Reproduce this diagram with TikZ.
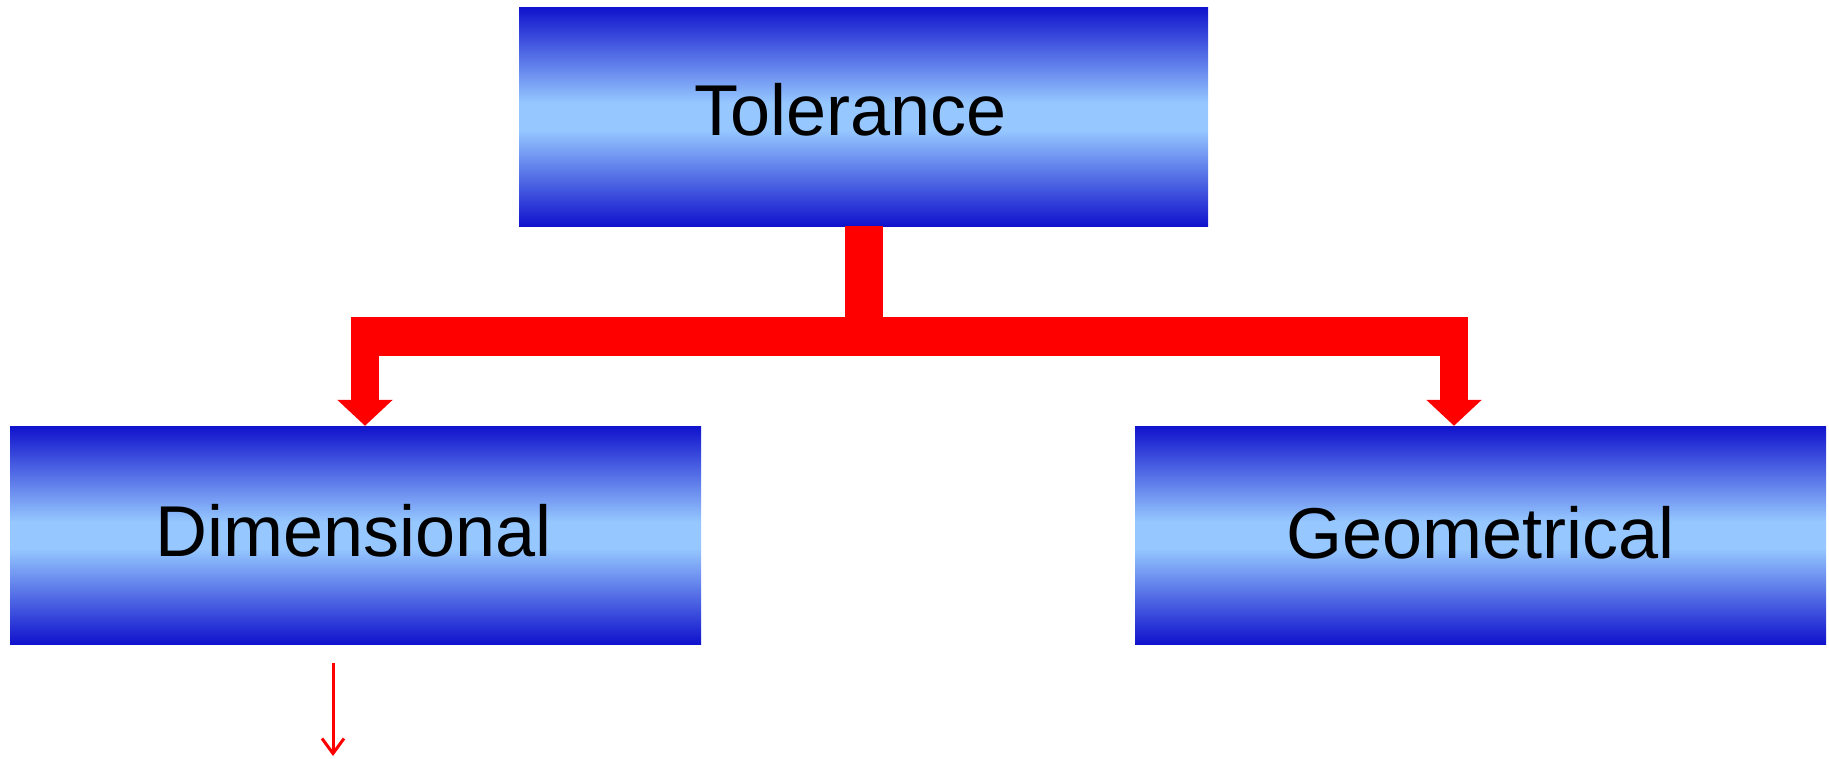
\documentclass[tikz,border=0pt]{standalone}
\usepackage{fontspec}
\setmainfont{Liberation Sans}
\usetikzlibrary{arrows.meta}
\definecolor{boxdark}{RGB}{16,18,204}
\definecolor{boxlight}{RGB}{150,200,255}
\definecolor{linkred}{RGB}{255,0,0}
% blue band shading: dark edges, light centre
\pgfdeclareverticalshading{boxband}{100bp}{%
  color(0bp)=(boxdark); color(25bp)=(boxdark);
  color(47bp)=(boxlight); color(53bp)=(boxlight);
  color(75bp)=(boxdark); color(100bp)=(boxdark)}
\tikzset{
  gradbox/.style={rectangle, inner sep=0pt, minimum width=#1, minimum height=218pt,
    shading=boxband},
  boxlabel/.style={font=\fontsize{72}{86}\selectfont, text=black, inner sep=0pt},
  thickbar/.style={draw=linkred, line cap=butt},
  bigarrow/.style={draw=linkred, line width=28pt, line cap=butt,
    -{Triangle[length=26pt, width=54pt]}},
  thinarrow/.style={draw=linkred, line width=3pt,
    -{Straight Barb[length=15pt, width=22pt, line width=3pt]}}
}
\begin{document}
\begin{tikzpicture}[x=1pt, y=-1pt]
  \useasboundingbox (0,0) rectangle (1829,758);

  % the three boxes
  \node[gradbox=689pt, minimum height=219pt] (tol) at (863.5,116.5) {};
  \node[gradbox=691pt] (dim) at (355.5,535) {};
  \node[gradbox=691pt] (geo) at (1480.5,535) {};
  \node[boxlabel] (tolt) at ([xshift=-13pt, yshift=7pt]tol.center) {Tolerance};
  \node[boxlabel] (dimt) at ([xshift=-2pt, yshift=4pt]dim.center) {Dimensional};
  \node[boxlabel] (geot) at ([yshift=2pt]geo.center) {Geometrical};

  % branching connector
  \coordinate (hub) at (863.5,336.5);
  \coordinate (barL) at (351,336.5);
  \coordinate (barR) at (1467,336.5);
  \coordinate (armL) at (365,317);
  \coordinate (armR) at (1454,317);
  \draw[thickbar, line width=38pt] (tol.south) -- ([yshift=-2pt]hub);
  \draw[thickbar, line width=39pt] (barL) -- (barR);
  \draw[bigarrow] (armL) -- (armL |- dim.north);
  \draw[bigarrow] (armR) -- (armR |- geo.north);

  % small arrow below the left box
  \coordinate (dimout) at (333,756);
  \draw[thinarrow, shorten <=19pt] (dim.south -| dimout) -- (dimout);
\end{tikzpicture}
\end{document}
